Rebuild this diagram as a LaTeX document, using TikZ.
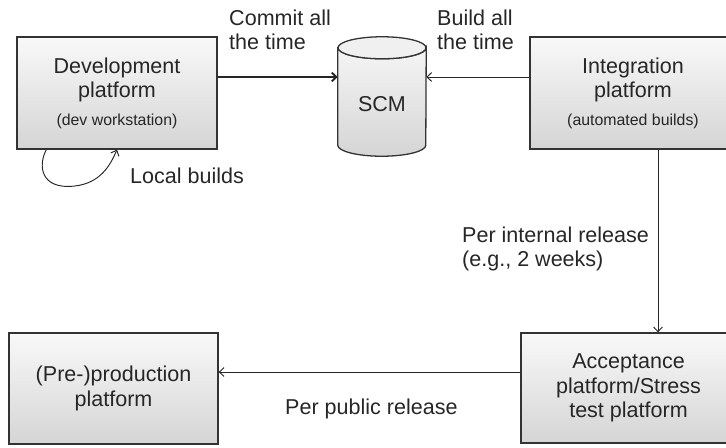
\documentclass[tikz,border=0pt]{standalone}
\usepackage{fontspec}
\setmainfont{Liberation Sans}
\usetikzlibrary{arrows.meta,calc,shadows}

\tikzset{
  platform/.style={draw=black!80, line width=1.1pt, top color=gray!5, bottom color=gray!33,
    drop shadow={shadow xshift=1.2pt, shadow yshift=-1.2pt, fill=black!60, opacity=1},
    align=center, inner sep=0pt, text=black!85, font=\fontsize{18.3}{21}\selectfont},
  note/.style={align=left, inner sep=0pt, text=black!85, font=\fontsize{18.3}{20.5}\selectfont},
  flow/.style={draw=black!85, line width=0.8pt, -{Straight Barb[length=4pt,width=7.5pt]}},
}

\begin{document}
\begin{tikzpicture}[x=0.85pt,y=-0.85pt]
\useasboundingbox (0,0) rectangle (726,448);

% platforms
\node[platform, minimum width=170pt, minimum height=95.2pt] (dev) at (117,93)
  {Development\\platform\\[2pt]{\fontsize{13.5}{16}\selectfont(dev workstation)}};
\node[platform, minimum width=175.1pt, minimum height=95.2pt] (integ) at (633,93)
  {Integration\\platform\\[2pt]{\fontsize{13.5}{16}\selectfont(automated builds)}};
\node[platform, minimum width=182.75pt, minimum height=93.5pt] (accept) at (628.5,388)
  {Acceptance\\platform/Stress\\test platform};
\node[platform, minimum width=177.65pt, minimum height=94.35pt] (preprod) at (113.5,388.5)
  {(Pre-)production\\platform};

% SCM
\node[minimum width=74.8pt, minimum height=101.15pt, inner sep=0pt] (scm) at (382,96.5) {};
\draw[draw=black!80, line width=1.1pt, top color=gray!8, bottom color=gray!33]
  ($(scm.north west)+(0,11)$) -- ($(scm.south west)+(0,-11)$)
  arc[start angle=180, end angle=360, x radius=37.4pt, y radius=9.35pt]
  -- ($(scm.north east)+(0,11)$)
  arc[start angle=0, end angle=-180, x radius=37.4pt, y radius=9.35pt] -- cycle;
\draw[draw=black!80, line width=1.1pt, fill=gray!12]
  ($(scm.north)+(0,11)$) ellipse[x radius=37.4pt, y radius=9.35pt];
\node[inner sep=0pt, text=black!85, font=\fontsize{18.3}{21}\selectfont] (scmlabel)
  at ($(scm.center)+(0,8)$) {SCM};

% connectors
\path (dev.east) ++(0,-16) coordinate (commit);
\draw[flow, line width=1.6pt] (commit) -- (commit -| scm.west);
\path (integ.west) ++(0,-16) coordinate (build);
\draw[flow] (build) -- (build -| scm.east);
\path (integ.south) ++(25,0) coordinate (release);
\draw[flow] (release) -- (release |- accept.north);
\path (accept.west) ++(0,-16) coordinate (public);
\draw[flow] (public) -- (public -| preprod.east);
\path (dev.south west) ++(30,0) coordinate (loop);
\draw[flow] (loop) .. controls (38,165) and (40,190) .. (75,186)
  .. controls (100,183) and (110,166) .. (dev.south);

% labels
\node[note, anchor=north west] (commitlabel) at (229,10) {Commit all\\the time};
\node[note, anchor=north west] (buildlabel) at (437,10) {Build all\\the time};
\node[note, anchor=base west] (locallabel) at (130,183) {Local builds};
\node[note, anchor=north west] (internallabel) at (462,227) {Per internal release\\(e.g., 2 weeks)};
\node[note, anchor=base west] (publiclabel) at (285,414) {Per public release};

\end{tikzpicture}
\end{document}
